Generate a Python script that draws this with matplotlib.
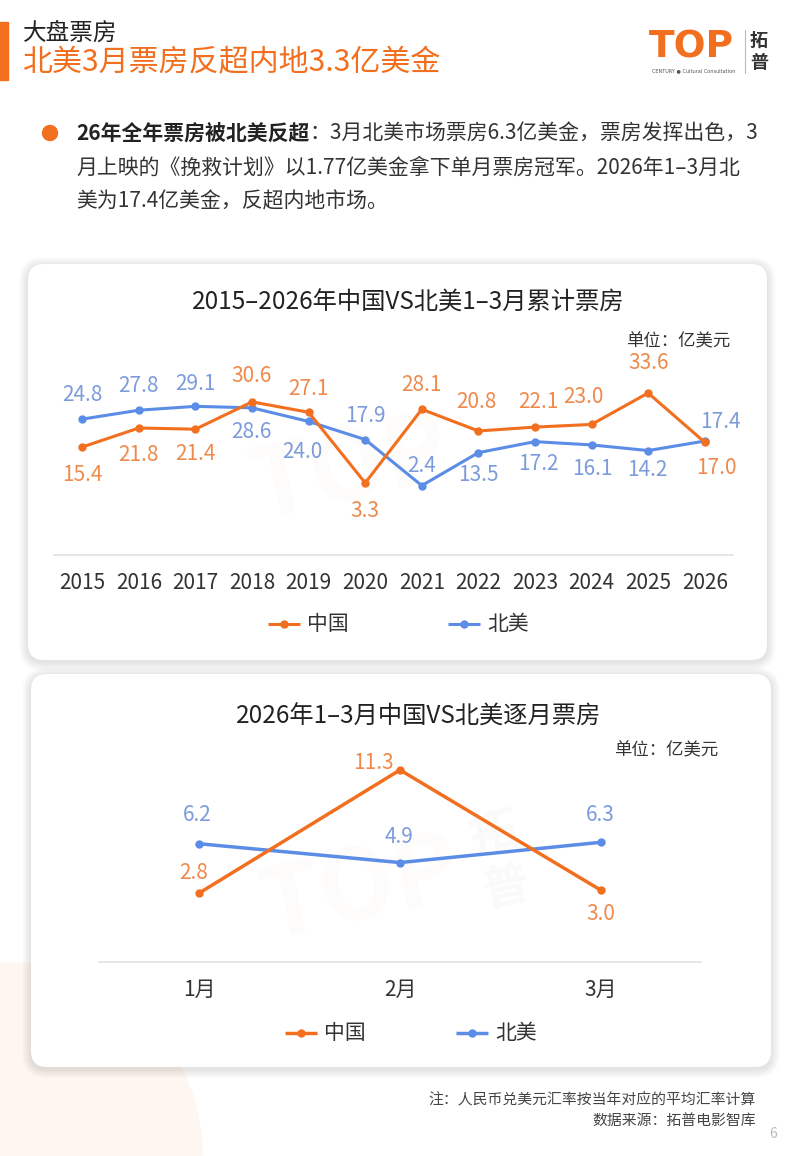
import matplotlib
matplotlib.use('Agg')
import matplotlib.pyplot as plt
from matplotlib.patches import FancyBboxPatch, Circle, Rectangle

plt.rcParams['font.family'] = ['Noto Sans CJK SC', 'DejaVu Sans']

# 数据
years = ['2015', '2016', '2017', '2018', '2019', '2020',
         '2021', '2022', '2023', '2024', '2025', '2026']
china_q1 = [15.4, 21.8, 21.4, 30.6, 27.1, 3.3, 28.1, 20.8, 22.1, 23.0, 33.6, 17.0]
na_q1 = [24.8, 27.8, 29.1, 28.6, 24.0, 17.9, 2.4, 13.5, 17.2, 16.1, 14.2, 17.4]

months = ['1月', '2月', '3月']
china_m = [2.8, 11.3, 3.0]
na_m = [6.2, 4.9, 6.3]

# desplazamiento de etiquetas (px: dx, dy hacia arriba)
china_q1_off = [(0, -28), (0, -27), (0, -25), (0, 26), (0, 23), (0, -28),
                (0, 24), (-2, 29), (3, 25), (-8, 27), (0, 30), (12, -26)]
na_q1_off = [(0, 24), (0, 24), (0, 22), (-1, -24), (-6, -31), (0, 24),
             (0, 20), (0, -22), (3, -22), (1, -24), (-1, -19), (16, 19)]
china_m_off = [(-6, 20), (-27, 7), (0, -24)]
na_m_off = [(-2, 29), (-1, 26), (0, 27)]

W, H = 800, 1156
ORANGE = '#F26F1F'
BLUE = '#5B8CE6'
ORANGE_LBL = '#EF8A4C'
BLUE_LBL = '#7C9BDB'
DARK = '#222222'

fig = plt.figure(figsize=(W / 100, H / 100), dpi=100)
fig.patch.set_facecolor('white')

# capa de fondo en pixeles
bg = fig.add_axes([0, 0, 1, 1], zorder=0)
bg.set_xlim(0, W)
bg.set_ylim(H, 0)
bg.axis('off')

# circulo palido abajo a la izquierda
bg.add_patch(Circle((10, 1155), 192, color='#FEF6F0', zorder=0))


def card(x0, y0, x1, y1):
    w, h = x1 - x0, y1 - y0
    for k in range(1, 10):
        bg.add_patch(FancyBboxPatch((x0 - k, y0 - k + 2), w + 2 * k, h + 2 * k,
                                    boxstyle='round,pad=0,rounding_size=%d' % (16 + k),
                                    fc='black', ec='none', alpha=0.011, zorder=1))
    bg.add_patch(FancyBboxPatch((x0, y0), w, h, boxstyle='round,pad=0,rounding_size=16',
                                fc='white', ec='none', zorder=2))


card(28, 264, 767, 660)
card(31, 674, 771, 1067)

# cabecera
bg.add_patch(Rectangle((0, 22), 8, 58, color=ORANGE, zorder=3))
bg.text(23, 33, '大盘票房', fontsize=17, color=DARK, va='center', zorder=3)
bg.text(22, 63, '北美3月票房反超内地3.3亿美金', fontsize=21.6, color=ORANGE, va='center', zorder=3)

# logo
bg.text(691, 47, 'TOP', fontsize=27, weight='bold', color=ORANGE, ha='center', va='center',
        family=['Liberation Sans Narrow', 'DejaVu Sans'], zorder=3)
bg.text(694, 71, 'CENTURY ● Cultural Consultation', fontsize=3.6, color='#555555',
        ha='center', va='center', family='DejaVu Sans', zorder=3)
bg.plot([745, 745], [30, 73], color='#BBBBBB', lw=0.8, zorder=3)
bg.text(759, 40, '拓', fontsize=13, weight='bold', color='#333333', ha='center', va='center', zorder=3)
bg.text(759, 62, '普', fontsize=13, weight='bold', color='#333333', ha='center', va='center', zorder=3)

# texto con viñeta
bg.add_patch(Circle((50, 133), 7.5, color=ORANGE, zorder=3))
t1 = bg.text(76, 133, '26年全年票房被北美反超', fontsize=15, weight='bold', color=DARK,
             va='center', zorder=3)
bg.annotate('：3月北美市场票房6.3亿美金，票房发挥出色，3', xy=(1, 0.5), xycoords=t1,
            fontsize=15, color='#333333', va='center', ha='left', zorder=3)
bg.text(76, 168, '月上映的《挽救计划》以1.77亿美金拿下单月票房冠军。2026年1–3月北',
        fontsize=15, color='#333333', va='center', zorder=3)
bg.text(76, 201, '美为17.4亿美金，反超内地市场。', fontsize=15, color='#333333',
        va='center', zorder=3)

# marcas de agua
bg.text(350, 470, 'TOP', fontsize=70, weight='bold', color=ORANGE, alpha=0.025,
        ha='center', va='center', rotation=12, zorder=3)
bg.text(360, 890, 'TOP', fontsize=70, weight='bold', color=ORANGE, alpha=0.025,
        ha='center', va='center', rotation=12, zorder=3)
bg.text(500, 860, '拓\n普', fontsize=34, weight='bold', color='#888888', alpha=0.045,
        ha='center', va='center', rotation=12, zorder=3)


def px_axes(x0, x1, ytop, ybot):
    ax = fig.add_axes([x0 / W, 1 - ybot / H, (x1 - x0) / W, (ybot - ytop) / H], zorder=5)
    ax.set_facecolor('none')
    return ax


def draw_chart(ax, cats, s_cn, s_na, off_cn, off_na, lw, ms):
    x = list(range(len(cats)))
    ax.plot(x, s_na, color=BLUE, lw=lw, marker='o', ms=ms, zorder=3, clip_on=False)
    ax.plot(x, s_cn, color=ORANGE, lw=lw, marker='o', ms=ms, zorder=4, clip_on=False)
    for xi, v, (dx, dy) in zip(x, s_cn, off_cn):
        ax.annotate(f'{v:.1f}', (xi, v), xytext=(dx * 0.72, dy * 0.72), textcoords='offset points',
                    ha='center', va='center', color=ORANGE_LBL, fontsize=15, zorder=5)
    for xi, v, (dx, dy) in zip(x, s_na, off_na):
        ax.annotate(f'{v:.1f}', (xi, v), xytext=(dx * 0.72, dy * 0.72), textcoords='offset points',
                    ha='center', va='center', color=BLUE_LBL, fontsize=15, zorder=5)
    ax.set_xlim(-0.5, len(cats) - 0.5)
    ax.set_xticks(x)
    ax.set_xticklabels(cats)
    ax.set_yticks([])
    for s in ['top', 'left', 'right']:
        ax.spines[s].set_visible(False)
    ax.spines['bottom'].set_color('#E2E2E2')
    ax.spines['bottom'].set_linewidth(1.2)
    ax.tick_params(axis='x', length=0, pad=12, labelsize=15, labelcolor='#333333')


def legend(y, x_cn, x_na, lw):
    for x0, c, lab in [(x_cn, ORANGE, '中国'), (x_na, BLUE, '北美')]:
        bg.plot([x0, x0 + 32], [y, y], color=c, lw=lw, solid_capstyle='butt', zorder=4)
        bg.plot([x0 + 16], [y], 'o', color=c, ms=5, zorder=4)
        bg.text(x0 + 39, y, lab, fontsize=15, color='#333333', va='center', zorder=4)


# grafico 1
bg.text(408, 303, '2015–2026年中国VS北美1–3月累计票房', fontsize=17.5, color=DARK,
        ha='center', va='center', zorder=4)
bg.text(730, 341, '单位：亿美元', fontsize=12.5, color='#333333', ha='right', va='center', zorder=4)
ax1 = px_axes(54, 733, 374, 555)
ax1.set_ylim(-21, 40)
draw_chart(ax1, years, china_q1, na_q1, china_q1_off, na_q1_off, 2.2, 5)
legend(624, 268, 448, 2.2)

# grafico 2
bg.text(419, 717, '2026年1–3月中国VS北美逐月票房', fontsize=17.5, color=DARK,
        ha='center', va='center', zorder=4)
bg.text(718, 750, '单位：亿美元', fontsize=12.5, color='#333333', ha='right', va='center', zorder=4)
ax2 = px_axes(99, 701, 740, 962)
ax2.set_ylim(-1.97, 13.37)
draw_chart(ax2, months, china_m, na_m, china_m_off, na_m_off, 2.5, 5)
legend(1033, 285, 456, 2.5)

# pie
bg.text(756, 1099, '注：人民币兑美元汇率按当年对应的平均汇率计算', fontsize=10.7, color='#444444',
        ha='right', va='center', zorder=4)
bg.text(756, 1121, '数据来源：拓普电影智库', fontsize=10.7, color='#444444',
        ha='right', va='center', zorder=4)
bg.text(773, 1134, '6', fontsize=10, color='#BBBBBB', ha='center', va='center', zorder=4)

fig.savefig('out.png', dpi=100)
